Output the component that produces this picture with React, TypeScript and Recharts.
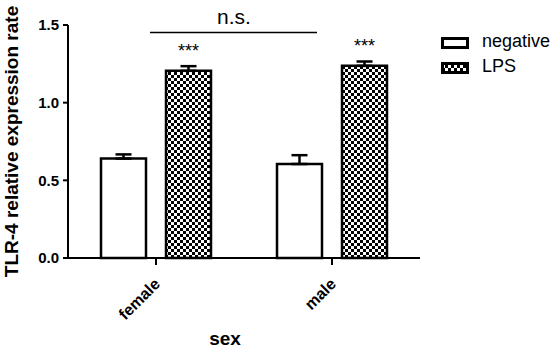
import React from 'react';
import {
  BarChart,
  Bar,
  XAxis,
  YAxis,
  ErrorBar,
  LabelList,
  Legend,
  Customized,
} from 'recharts';

const FONT = '"Liberation Sans", Arial, Helvetica, sans-serif';

const categories = ['female', 'male'];
const negativeMean = [0.64, 0.605];
const negativeSem = [0.027, 0.057];
const lpsMean = [1.205, 1.237];
const lpsSem = [0.03, 0.028];
const significance = ['***', '***'];
const yTicks = [0, 0.5, 1.0, 1.5];
const seriesNames = ['negative', 'LPS'];

const data = categories.map((sex, i) => ({
  sex,
  negative: negativeMean[i],
  negativeErr: [0, negativeSem[i]],
  LPS: lpsMean[i],
  lpsErr: [0, lpsSem[i]],
  sig: significance[i],
}));

function CheckerPattern({ id }: { id: string }) {
  return (
    <pattern id={id} width={6} height={6} patternUnits="userSpaceOnUse">
      <rect width={6} height={6} fill="#fff" />
      <rect x={0} y={0} width={3} height={3} fill="#000" />
      <rect x={3} y={3} width={3} height={3} fill="#000" />
    </pattern>
  );
}

function SexTick({ x, y, payload }: any) {
  const ax = x + 5;
  const ay = y + 18;
  return (
    <text
      x={ax}
      y={ay}
      transform={`rotate(-45, ${ax}, ${ay})`}
      textAnchor="end"
      fontSize={16}
      fontWeight="bold"
      fontFamily={FONT}
      fill="#000"
    >
      {payload.value}
    </text>
  );
}

function StarLabel({ x, y, width, value }: any) {
  return (
    <text
      x={x + width / 2}
      y={y - 14}
      textAnchor="middle"
      fontSize={18}
      fontFamily={FONT}
      fill="#000"
    >
      {value}
    </text>
  );
}

function SeriesLegend() {
  return (
    <svg width={121} height={50}>
      <defs>
        <CheckerPattern id="checker-legend" />
      </defs>
      <rect x={9.5} y={9.5} width={25} height={9} fill="#fff" stroke="#000" strokeWidth={3} />
      <text x={49} y={18} fontSize={18} fontFamily={FONT} fill="#000">
        {seriesNames[0]}
      </text>
      <rect x={9.5} y={34.5} width={25} height={9} fill="url(#checker-legend)" stroke="#000" strokeWidth={3} />
      <text x={49} y={43} fontSize={18} fontFamily={FONT} fill="#000">
        {seriesNames[1]}
      </text>
    </svg>
  );
}

function Annotations() {
  return (
    <g>
      <line x1={150} y1={32.5} x2={317} y2={32.5} stroke="#000" strokeWidth={1.5} />
      <text x={234} y={24} textAnchor="middle" fontSize={21} fontFamily={FONT} fill="#000">
        n.s.
      </text>
    </g>
  );
}

export default function App() {
  return (
    <div style={{ position: 'absolute', left: 0, top: 0, width: 555, height: 353, background: '#fff' }}>
      <BarChart
        width={555}
        height={353}
        data={data}
        margin={{ top: 25, right: 135, bottom: 0, left: 0 }}
        barSize={45}
        barGap={20}
      >
        <defs>
          <CheckerPattern id="checker" />
        </defs>
        <XAxis
          dataKey="sex"
          height={95}
          axisLine={{ stroke: '#000', strokeWidth: 2 }}
          tickLine={{ stroke: '#000', strokeWidth: 2 }}
          tickSize={7}
          tickMargin={2}
          tick={<SexTick />}
          interval={0}
          label={{
            value: 'sex',
            position: 'insideBottom',
            offset: 8,
            dx: -19,
            style: { fontSize: 19, fontWeight: 'bold', fill: '#000', fontFamily: FONT },
          }}
        />
        <YAxis
          width={68}
          domain={[0, 1.5]}
          ticks={yTicks}
          tickFormatter={(v: number) => v.toFixed(1)}
          axisLine={{ stroke: '#000', strokeWidth: 2 }}
          tickLine={{ stroke: '#000', strokeWidth: 2 }}
          tickSize={5}
          tickMargin={4}
          tick={{ fontSize: 15, fontWeight: 'bold', fill: '#000', fontFamily: FONT }}
          label={{
            value: 'TLR-4 relative expression rate',
            angle: -90,
            position: 'insideLeft',
            offset: 11,
            style: { textAnchor: 'middle', fontSize: 19, fontWeight: 'bold', fill: '#000', fontFamily: FONT },
          }}
        />
        <Legend
          layout="vertical"
          align="center"
          verticalAlign="middle"
          content={() => <SeriesLegend />}
          wrapperStyle={{ position: 'absolute', left: 433, top: 29, width: 122, height: 50 }}
        />
        <Bar
          dataKey="negative"
          name={seriesNames[0]}
          fill="#fff"
          stroke="#000"
          strokeWidth={2.5}
          isAnimationActive={false}
        >
          <ErrorBar dataKey="negativeErr" width={8} stroke="#000" strokeWidth={2.5} direction="y" />
        </Bar>
        <Bar
          dataKey="LPS"
          name={seriesNames[1]}
          fill="url(#checker)"
          stroke="#000"
          strokeWidth={2.5}
          isAnimationActive={false}
        >
          <ErrorBar dataKey="lpsErr" width={8} stroke="#000" strokeWidth={2.5} direction="y" />
          <LabelList dataKey="sig" content={<StarLabel />} />
        </Bar>
        <Customized component={Annotations} />
      </BarChart>
    </div>
  );
}
